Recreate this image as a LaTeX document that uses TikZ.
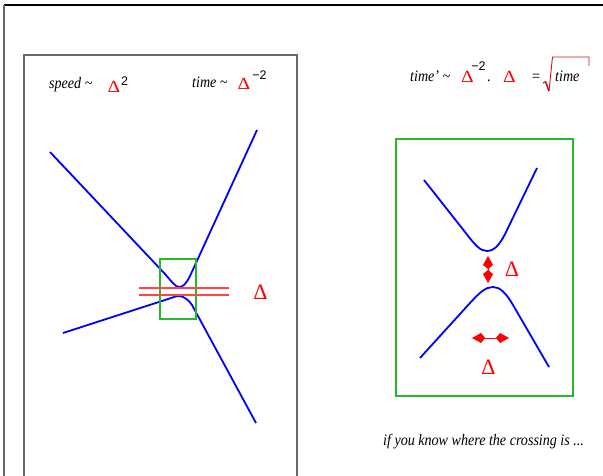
\documentclass[tikz,border=0pt]{standalone}
\usepackage{fontspec}
\setmainfont{Liberation Serif}
\newfontfamily\lblfont[FakeStretch=0.88]{Liberation Serif}
\newfontfamily\supfont{Liberation Sans}
\usetikzlibrary{arrows.meta}
\definecolor{curveblue}{RGB}{0,0,255}
\definecolor{boxgreen}{RGB}{40,185,40}
\definecolor{linered}{RGB}{255,70,70}
\definecolor{deltared}{RGB}{255,0,0}
\definecolor{rootred}{RGB}{200,20,30}
\definecolor{framegray}{RGB}{105,105,105}
\begin{document}
\begin{tikzpicture}[x=1pt,y=-1pt,
  curve/.style={draw=curveblue,line width=1.8pt},
  greenbox/.style={draw=boxgreen,line width=1.3pt},
  redline/.style={draw=linered,line width=1.1pt},
  frame/.style={draw=framegray,line width=1.4pt},
  itext/.style={inner sep=0,anchor=base west,font=\lblfont\itshape\fontsize{16}{18}\selectfont},
  rtext/.style={inner sep=0,anchor=base west,font=\lblfont\fontsize{16}{18}\selectfont},
  supr/.style={inner sep=0,anchor=center,font=\supfont\fontsize{12.5}{14}\selectfont},
  topdelta/.style={inner sep=0,anchor=center,text=deltared,font=\fontsize{17}{20}\selectfont},
  figdelta/.style={inner sep=0,anchor=center,text=deltared,font=\fontsize{22}{26}\selectfont},
  dblarrow/.style={draw=deltared,fill=deltared,line width=1pt,
     {Kite[length=13pt,width=10pt,inset=4pt]}-{Kite[length=13pt,width=10pt,inset=4pt]}}
]
\useasboundingbox (0,0) rectangle (603,476);
\fill[white] (0,0) rectangle (603,476);
% outer frame
\draw[black,line width=1.4pt] (4,5) -- (603,5);
\draw[frame] (4,5) -- (4,476);
% left panel
\draw[frame] (24,476) -- (24,55) -- (297,55) -- (297,476);
% right green panel
\draw[greenbox] (396,139) rectangle (573,396);
% left curves
\draw[curve] (50,152) -- (165,274) .. controls (172,282) and (175.5,287) .. (179,287)
   .. controls (183,287) and (186,284) .. (190,276) -- (257,130);
\draw[curve] (63,333) -- (165,300) .. controls (172,297.7) and (176,296) .. (179,296)
   .. controls (184,296) and (189.5,301) .. (192,305) -- (256,423);
% small green box and red lines
\draw[greenbox] (160,259) rectangle (196,319);
\draw[redline] (139,288) -- (229,288);
\draw[redline] (139,295) -- (229,295);
\node[figdelta] (dl) at (260.5,292.5) {Δ};
% right curves
\draw[curve] (424,180) -- (465,232) .. controls (475,245) and (480,251) .. (487,251)
   .. controls (495,251) and (501,243) .. (507,230) -- (537,168);
\draw[curve] (420,358) -- (470,303) .. controls (480,292) and (486,287) .. (493,287)
   .. controls (500,287) and (506,293) .. (513,305) -- (549,367);
% arrows
\coordinate (vt) at (488,256);
\coordinate (vb) at (488,283);
\draw[dblarrow] (vt) -- (vb);
\coordinate (hl) at (472,338);
\coordinate (hr) at (509,338);
\draw[dblarrow] (hl) -- (hr);
\node[figdelta] (dv) at (512,269.5) {Δ};
\node[figdelta] (dh) at (488.5,367) {Δ};
% top-left labels
\node[itext] (speed) at (49,89) {speed \textasciitilde};
\node[topdelta] (d1) at (114,87) {\scalebox{1.15}[1]{Δ}};
\node[supr] (s1) at (124.5,81) {2};
\node[itext] (time) at (192,88) {time \textasciitilde};
\node[topdelta] (d2) at (244,84) {\scalebox{1.15}[1]{Δ}};
\node[supr] (s2) at (259.5,75) {−2};
% top-right labels
\node[itext] (timep) at (410,82) {time’ \textasciitilde};
\node[topdelta] (d3) at (467.5,77) {\scalebox{1.15}[1]{Δ}};
\node[supr] (s3) at (478.5,66.5) {−2};
\node[rtext] (dot) at (487,82) {.};
\node[topdelta] (d4) at (509.5,77) {\scalebox{1.15}[1]{Δ}};
\node[rtext] (eq) at (532,82) {=};
\draw[draw=rootred,line width=1.1pt] (543,83) -- (545.5,81.5);
\draw[draw=rootred,line width=1.6pt] (545.5,81.5) -- (549,91);
\draw[draw=rootred,line width=0.9pt] (549,91) -- (552.5,57) -- (589,57) -- (589,66);
\node[itext] (time2) at (555,82) {time};
% bottom text
\node[itext] (note) at (383,445) {if you know where the crossing is ...};
\end{tikzpicture}
\end{document}
